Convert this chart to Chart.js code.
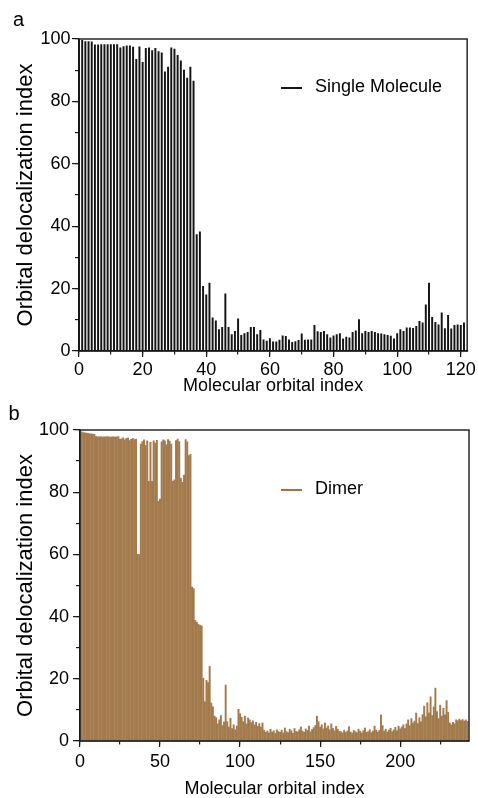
<!DOCTYPE html>
<html><head><meta charset="utf-8">
<script src="https://cdn.jsdelivr.net/npm/chart.js@4.4.1/dist/chart.umd.min.js"></script>
<style>
html,body{margin:0;padding:0;background:#fff;overflow:hidden;width:478px;height:798px;}
canvas{position:absolute;left:0;}
#ca{top:0;} #cb{top:399px;}
</style></head><body>
<canvas id="ca" width="478" height="399"></canvas>
<canvas id="cb" width="478" height="402"></canvas>
<script>
// Panel a: Single Molecule, orbital delocalization index per molecular orbital (index = position)
const singleMoleculeValues = [
  99.8, 99.6, 99.2, 99.2, 99.1, 98.1, 98.1, 98.2, 98.2, 98.2,
  98.2, 98.2, 98.2, 97.2, 97.6, 97.8, 97.8, 97.4, 93.5, 97.5,
  92.5, 97.0, 97.2, 96.3, 97.0, 96.0, 95.6, 89.5, 91.0, 97.2,
  96.8, 94.8, 93.0, 90.0, 87.5, 91.0, 86.5, 37.3, 38.2, 20.7,
  18.0, 21.8, 10.6, 9.7, 6.9, 7.6, 18.3, 7.6, 5.3, 6.3,
  10.3, 5.0, 5.6, 6.0, 7.6, 7.6, 5.3, 6.6, 3.6, 3.2,
  4.0, 2.9, 2.9, 3.5, 4.9, 4.7, 3.6, 2.8, 3.0, 3.4,
  5.5, 3.5, 3.6, 3.6, 8.2, 6.2, 6.0, 6.3, 5.3, 4.2,
  4.9, 5.3, 5.6, 3.9, 4.5, 4.2, 6.0, 6.5, 10.1, 5.6,
  6.3, 6.0, 6.3, 6.0, 5.6, 5.5, 5.3, 5.0, 4.8, 3.9,
  5.6, 6.9, 6.3, 7.4, 7.4, 7.3, 7.9, 9.5, 9.0, 14.8,
  21.8, 10.8, 9.2, 8.4, 12.2, 7.2, 11.4, 7.1, 8.2, 8.4,
  8.2, 9.0
];
// Panel b: Dimer
const dimerValues = [
  99.6, 99.4, 99.2, 99.1, 99.0, 98.9, 98.8, 98.8, 98.7, 98.6,
  97.9, 97.8, 97.8, 97.9, 97.7, 97.8, 97.8, 97.9, 97.8, 97.7, 97.8, 97.8, 97.7, 97.8, 97.9,
  97.0, 97.2, 97.5, 96.8, 97.3, 97.4, 96.6, 97.0, 97.3, 96.9, 97.1,
  60.0, 60.0,
  95.5, 96.3, 96.8, 95.0, 96.5,
  83.5, 96.0, 83.5, 96.5, 95.8, 96.7,
  77.1, 77.8,
  96.2, 96.8, 96.5, 95.2, 96.9, 96.4, 95.5,
  83.5, 84.0,
  96.6, 97.1, 96.3,
  84.5, 83.2, 85.5,
  96.9, 96.2,
  91.8, 92.2,
  49.5, 49.0,
  38.8, 38.2, 37.5, 37.2, 37.0,
  20.2, 12.6, 19.5, 18.8, 24.0, 12.2, 11.0, 8.0,
  7.5, 5.5, 6.8, 8.2, 5.0, 6.1,
  18.0,
  6.2, 4.5, 7.3, 4.0, 5.2, 3.6, 4.8,
  10.2, 8.8,
  7.6, 6.2, 8.0, 5.5, 7.4, 6.8, 5.9,
  6.5, 5.2, 6.0, 4.8, 5.6, 4.5, 5.8,
  3.5, 2.8, 3.2, 2.6, 3.8, 2.9, 3.3, 2.5, 3.6, 3.0,
  2.8, 3.5, 2.6, 4.2, 3.0, 2.7, 3.8, 3.3, 2.5, 4.0, 3.1, 2.9, 3.6, 4.5, 3.2, 2.8, 3.9, 3.4, 4.8, 3.0, 3.7, 4.3, 5.0,
  8.0, 6.2,
  4.5, 5.2, 3.9, 5.8, 4.2, 4.8, 3.6, 5.5, 4.0, 3.3, 4.7, 3.8, 3.1,
  3.0, 2.6, 3.5, 2.8, 3.2, 4.6, 2.9, 2.5, 3.4, 3.0, 2.7, 3.8, 3.1, 2.6, 3.3, 4.2, 2.8, 3.0, 3.6, 2.7, 3.2, 4.8, 3.5, 2.9, 3.4,
  8.4, 5.0,
  3.2, 3.8, 2.9, 3.5, 4.1, 3.0, 3.6, 4.4, 3.3, 4.8, 3.9, 4.5, 5.2, 4.0,
  5.5, 6.8, 4.9, 7.2, 5.8, 6.4, 9.0, 5.6, 7.5, 6.2,
  8.5, 11.2, 7.8, 12.3, 9.0,
  14.2, 8.2,
  11.0, 17.0,
  9.5, 7.2, 11.5, 8.0,
  10.5, 8.4, 13.0, 9.2,
  5.8, 5.2, 6.0, 5.5,
  6.8, 6.5, 7.0, 6.6, 6.9, 6.4, 6.8, 6.3
];
const seriesLabels = ['Single Molecule', 'Dimer'];
const panelLabels = ['a', 'b'];
const xTitle = 'Molecular orbital index';
const yTitle = 'Orbital delocalization index';
const yTickValues = [0, 20, 40, 60, 80, 100];
const xTickValuesA = [0, 20, 40, 60, 80, 100, 120];
const xTickValuesB = [0, 50, 100, 150, 200];

Chart.defaults.font.family = "'Liberation Sans', Arial, Helvetica, sans-serif";
Chart.defaults.color = '#000';

const AXIS = '#1a1a1a';

const framePlugin = {
  id: 'frame',
  afterDatasetsDraw(chart, args, o) {
    const {ctx, chartArea: a} = chart;
    ctx.save();
    ctx.strokeStyle = AXIS;
    ctx.lineWidth = 1.4;
    ctx.strokeRect(a.left, a.top, a.right - a.left, a.bottom - a.top);
    // legend (inside plot)
    const ds = chart.data.datasets[0];
    ctx.strokeStyle = o.legendColor;
    ctx.lineWidth = 2;
    ctx.beginPath();
    ctx.moveTo(o.lx, o.ly);
    ctx.lineTo(o.lx + 21, o.ly);
    ctx.stroke();
    ctx.fillStyle = '#000';
    ctx.font = "18px 'Liberation Sans', Arial, sans-serif";
    ctx.textBaseline = 'middle';
    ctx.textAlign = 'left';
    ctx.fillText(ds.label, o.lx + 34, o.ly - 1);
    // panel label
    ctx.font = "20px 'Liberation Sans', Arial, sans-serif";
    ctx.textBaseline = 'alphabetic';
    ctx.fillText(o.panel, o.px, o.py);
    ctx.restore();
  }
};

function makeChart(id, values, label, color, thickness, xMax, xMajorStep, xMinorStep, xTicks, L) {
  return new Chart(document.getElementById(id), {
    type: 'bar',
    data: { datasets: [{
      label: label,
      data: values.map((v, i) => ({ x: i, y: v })),
      backgroundColor: color,
      borderWidth: 0,
      barThickness: thickness,
      xAxisID: 'x', yAxisID: 'y'
    }]},
    options: {
      responsive: false, animation: false, devicePixelRatio: 1,
      layout: { padding: { top: L.top, right: L.right, left: 0, bottom: 0 } },
      plugins: {
        legend: { display: false }, tooltip: { enabled: false },
        frame: { legendColor: L.legendColor, lx: L.lx, ly: L.ly, panel: L.panel, px: L.px, py: L.py }
      },
      scales: {
        x: {
          type: 'linear', position: 'bottom', weight: 1, min: 0, max: xMax, offset: false,
          afterFit: s => { s.height = L.xh; },
          border: { display: true, color: AXIS, width: 1.4 },
          grid: { display: true, drawOnChartArea: false, drawTicks: true, tickLength: 6, color: AXIS, lineWidth: 1.2, offset: false },
          ticks: { stepSize: xMajorStep, autoSkip: false, maxRotation: 0, includeBounds: false, padding: L.xpad,
                   font: { size: 18 }, callback: v => (xTicks.includes(v) ? String(v) : '') },
          title: { display: true, text: xTitle, font: { size: 18 }, padding: { top: 0, bottom: L.xtp } }
        },
        xMinor: {
          type: 'linear', position: 'bottom', weight: 0, min: 0, max: xMax, offset: false,
          afterFit: s => { s.height = 0; },
          border: { display: false },
          grid: { display: true, drawOnChartArea: false, drawTicks: true, tickLength: 3.5, color: AXIS, lineWidth: 1.2, offset: false },
          ticks: { display: false, stepSize: xMinorStep, autoSkip: false, includeBounds: false }
        },
        y: {
          type: 'linear', position: 'left', weight: 1, min: 0, max: 100,
          afterFit: s => { s.width = L.yw; },
          border: { display: true, color: AXIS, width: 1.4 },
          grid: { display: true, drawOnChartArea: false, drawTicks: true, tickLength: 7, color: AXIS, lineWidth: 1.2 },
          ticks: { stepSize: 20, autoSkip: false, includeBounds: false, padding: L.ypad, font: { size: 18 },
                   callback: v => (yTickValues.includes(v) ? String(v) : '') },
          title: { display: true, text: yTitle, font: { size: 22 }, padding: { top: L.ytp, bottom: 0 } }
        },
        yMinor: {
          type: 'linear', position: 'left', weight: 0, min: 0, max: 100,
          afterFit: s => { s.width = 0; },
          border: { display: false },
          grid: { display: true, drawOnChartArea: false, drawTicks: true, tickLength: 4, color: AXIS, lineWidth: 1.2 },
          ticks: { display: false, stepSize: 10, autoSkip: false, includeBounds: false }
        }
      }
    },
    plugins: [framePlugin]
  });
}

makeChart('ca', singleMoleculeValues, seriesLabels[0], '#141414', 1.3, 122, 20, 10, xTickValuesA,
  { top: 39, right: 9, xh: 48, yw: 79, xpad: 2, ypad: 1.5, xtp: 2.5, ytp: 13,
    legendColor: '#141414', lx: 281, ly: 88, panel: panelLabels[0], px: 13, py: 26 });
makeChart('cb', dimerValues, seriesLabels[1], '#a27a4c', 1.3, 243, 50, 25, xTickValuesB,
  { top: 31, right: 9, xh: 60, yw: 80, xpad: 4, ypad: 4, xtp: 1, ytp: 13,
    legendColor: '#a47345', lx: 281, ly: 91, panel: panelLabels[1], px: 8.5, py: 21 });
</script>
</body></html>
